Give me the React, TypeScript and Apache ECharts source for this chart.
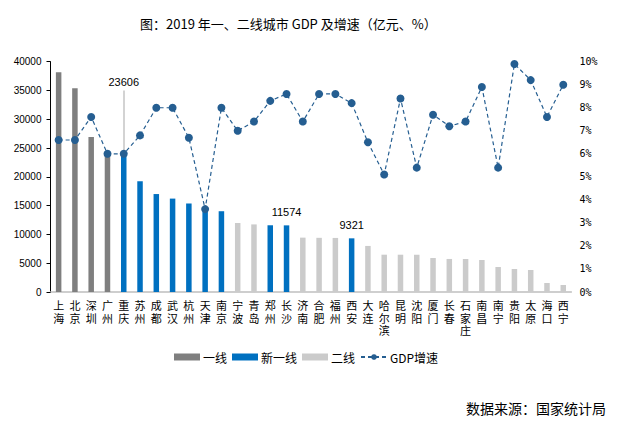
import React, { useEffect, useRef } from "react";
import * as echarts from "echarts";

const cities = ["上海", "北京", "深圳", "广州", "重庆", "苏州", "成都", "武汉", "杭州", "天津", "南京", "宁波", "青岛", "郑州", "长沙", "济南", "合肥", "福州", "西安", "大连", "哈尔滨", "昆明", "沈阳", "厦门", "长春", "石家庄", "南昌", "南宁", "贵阳", "太原", "海口", "西宁"];
const gdp = [38155, 35371, 26927, 23628, 23606, 19236, 17013, 16223, 15373, 14104, 14030, 11985, 11741, 11590, 11574, 9443, 9409, 9392, 9321, 8000, 6480, 6476, 6470, 5900, 5740, 5730, 5560, 4340, 3990, 3820, 1560, 1220];
const growth = [6.6, 6.6, 7.6, 6.0, 6.0, 6.8, 8.0, 8.0, 6.7, 3.6, 8.0, 7.0, 7.4, 8.3, 8.6, 7.4, 8.6, 8.6, 8.2, 6.5, 5.1, 8.4, 5.4, 7.7, 7.2, 7.4, 8.9, 5.4, 9.9, 9.2, 7.6, 9.0];
const tier1 = ["上海", "北京", "深圳", "广州"];
const newTier1 = ["重庆", "苏州", "成都", "武汉", "杭州", "天津", "南京", "郑州", "长沙", "西安"];
const labeledCities = ["长沙", "西安"];
const leaderCity = "重庆";
const leaderTop = 35000;
const leftTicks = { min: 0, max: 40000, interval: 5000 };
const rightTicks = { min: 0, max: 10, interval: 1 };

const FONT = "'Noto Sans CJK SC', 'Noto Sans', sans-serif";

export default function App() {
  const ref = useRef<HTMLDivElement>(null);
  useEffect(() => {
    if (!ref.current) return;
    document.body.style.margin = "0";
    const chart = echarts.init(ref.current, null, { renderer: "svg" });
    const leaderIdx = cities.indexOf(leaderCity);
    const tier1Data = cities.map((c, i) => (tier1.includes(c) ? gdp[i] : null));
    const newData = cities.map((c, i) =>
      newTier1.includes(c)
        ? labeledCities.includes(c)
          ? { value: gdp[i], label: { show: true } }
          : gdp[i]
        : null
    );
    const tier2Data = cities.map((c, i) =>
      !tier1.includes(c) && !newTier1.includes(c) ? gdp[i] : null
    );
    const barCommon = {
      type: "bar",
      barWidth: 5.5,
      barGap: "-100%",
      yAxisIndex: 0,
    };
    chart.setOption({
      animation: false,
      textStyle: { fontFamily: FONT },
      title: {
        text: "图：2019 年一、二线城市 GDP 及增速（亿元、%）",
        left: 140,
        top: 17,
        padding: 0,
        textStyle: { fontSize: 13, fontWeight: "normal", color: "#000", fontFamily: FONT },
      },
      legend: {
        left: 174,
        top: 351,
        padding: 0,
        itemWidth: 26,
        itemHeight: 7,
        itemGap: 5,
        textStyle: { fontSize: 12, color: "#000", fontFamily: FONT, padding: [0, 0, 0, -2] },
        data: [
          { name: "一线", icon: "rect" },
          { name: "新一线", icon: "rect" },
          { name: "二线", icon: "rect" },
          { name: "GDP增速" },
        ],
      },
      grid: { left: 50.5, right: 47.6, top: 61.7, bottom: 129, containLabel: false, outerBoundsMode: "none" },
      xAxis: {
        type: "category",
        data: cities,
        axisLine: { show: true, lineStyle: { color: "#bfbfbf", width: 1.5 } },
        axisTick: { show: false },
        axisLabel: {
          interval: 0,
          fontSize: 11,
          lineHeight: 12.5,
          color: "#000",
          margin: 8,
          fontFamily: "'Liberation Sans', 'Noto Sans CJK SC', sans-serif",
          formatter: (v: string) => v.split("").join("\n"),
        },
      },
      yAxis: [
        {
          type: "value",
          ...leftTicks,
          axisLine: { show: true, lineStyle: { color: "#000" } },
          axisTick: { show: true, length: 4, lineStyle: { color: "#000" } },
          splitLine: { show: false },
          axisLabel: {
            fontSize: 10,
            color: "#000",
            margin: 9,
            fontFamily: "'Liberation Sans', sans-serif",
            formatter: (v: number) => String(v),
          },
        },
        {
          type: "value",
          ...rightTicks,
          position: "right",
          axisLine: { show: false },
          axisTick: { show: false },
          splitLine: { show: false },
          axisLabel: { fontSize: 10, color: "#000", margin: 8, formatter: "{value}%", fontFamily: "'DejaVu Sans Mono', monospace" },
        },
      ],
      series: [
        { ...barCommon, name: "一线", data: tier1Data, itemStyle: { color: "#7f7f7f" } },
        {
          ...barCommon,
          name: "新一线",
          data: newData,
          itemStyle: { color: "#0070c0" },
          label: { show: false, position: "top", distance: 8, fontSize: 11, color: "#000", fontFamily: "'Liberation Sans', sans-serif" },
          markLine: {
            silent: true,
            symbol: ["none", "none"],
            lineStyle: { color: "#c4c4c4", width: 1.5, type: "solid" },
            label: {
              show: true,
              position: "end",
              distance: 3,
              fontSize: 11,
              color: "#000",
              fontFamily: "'Liberation Sans', sans-serif",
              formatter: () => String(gdp[leaderIdx]),
            },
            data: [
              [
                { coord: [leaderIdx, gdp[leaderIdx]] },
                { coord: [leaderIdx, leaderTop] },
              ],
            ],
          },
        },
        { ...barCommon, name: "二线", data: tier2Data, itemStyle: { color: "#cbcbcb" } },
        {
          type: "line",
          name: "GDP增速",
          yAxisIndex: 1,
          data: growth,
          z: 5,
          symbol: "circle",
          symbolSize: 8,
          itemStyle: { color: "#255e91" },
          lineStyle: { color: "#255e91", width: 1.2, type: [4, 3] },
        },
      ],
      graphic: [
        {
          type: "text",
          x: 606,
          y: 408,
          style: {
            text: "数据来源：国家统计局",
            fontSize: 14,
            fill: "#000",
            fontFamily: FONT,
            align: "right",
            verticalAlign: "middle",
          },
        },
      ],
    });
    return () => chart.dispose();
  }, []);
  return <div ref={ref} style={{ width: 619, height: 421 }} />;
}
